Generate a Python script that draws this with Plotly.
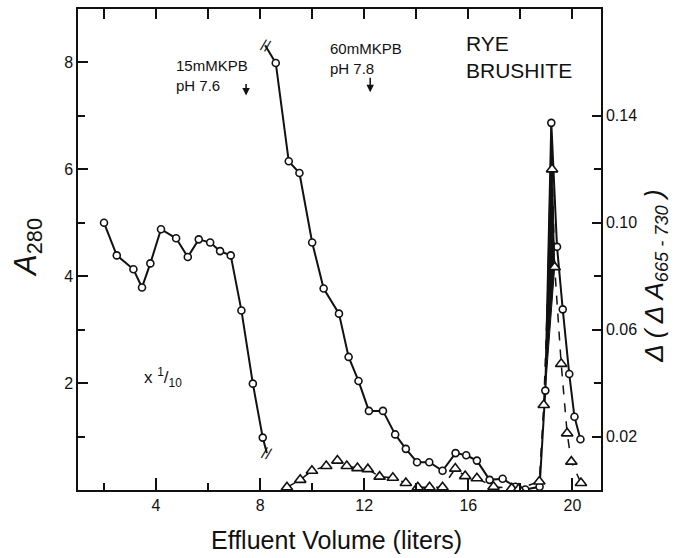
import plotly.graph_objects as go

# ---- data ----
left_x = [2.0, 2.49, 3.13, 3.46, 3.78, 4.19, 4.77, 5.22, 5.64, 6.08, 6.46, 6.87, 7.28, 7.72, 8.10]
left_y = [5.0, 4.39, 4.13, 3.79, 4.24, 4.88, 4.71, 4.36, 4.69, 4.63, 4.47, 4.39, 3.36, 1.99, 0.98]

main_x = [8.60, 9.10, 9.51, 10.00, 10.44, 11.03, 11.40, 11.78, 12.18, 12.72, 13.19, 13.60, 14.03, 14.50,
          15.01, 15.51, 15.92, 16.33, 16.82, 17.32, 17.81, 18.19, 18.74, 18.96, 19.19, 19.41, 19.63,
          19.88, 20.08, 20.31]
main_y = [7.99, 6.15, 5.93, 4.63, 3.77, 3.30, 2.49, 2.04, 1.48, 1.48, 1.04, 0.77, 0.52, 0.52,
          0.36, 0.69, 0.65, 0.55, 0.19, 0.21, 0.06, 0.01, 0.06, 1.86, 6.87, 4.55, 3.38,
          2.17, 1.37, 0.95]

tri_x = [9.03, 9.54, 9.99, 10.54, 10.97, 11.33, 11.74, 12.14, 12.59, 13.10, 13.60, 14.06, 14.51, 15.01,
         15.50, 15.88, 16.33, 16.97, 17.67, 17.94, 18.73, 18.90, 19.22, 19.32, 19.57, 19.80, 19.96, 20.33]
tri_y = [0.001, 0.0038, 0.0072, 0.009, 0.011, 0.009, 0.0082, 0.0078, 0.005, 0.0046, 0.0026, 0.001, 0.001,
         0.001, 0.008, 0.0052, 0.0044, 0.0012, 0.0006, 0.0004, 0.0032, 0.0318, 0.120, 0.0834, 0.0472,
         0.0212, 0.0106, 0.0026]

# axis break ends of the A280 curve
break_lo = (8.26, 0.69)
break_hi = (8.19, 8.32)

x_major = [4, 8, 12, 16, 20]
x_minor = [2, 6, 10, 14, 18]
x_top = [2, 4, 6, 8, 10, 12, 14, 16, 18, 20]
y_major = [2, 4, 6, 8]
y_minor = [1, 3, 5, 7]
y2_major = [0.02, 0.06, 0.10, 0.14]
y2_minor = [0.04, 0.08, 0.12]

FONT = "Liberation Sans"
BLACK = "#111111"

fig = go.Figure()

# left (x 1/10) curve and break extension
fig.add_trace(go.Scatter(x=[left_x[-1], break_lo[0]], y=[left_y[-1], break_lo[1]], mode="lines",
                         line=dict(color=BLACK, width=2), showlegend=False, hoverinfo="skip"))
fig.add_trace(go.Scatter(x=left_x, y=left_y, mode="lines+markers", line=dict(color=BLACK, width=2),
                         marker=dict(symbol="circle", size=7, color="white", line=dict(width=1.6, color=BLACK)),
                         showlegend=False))

# peak wedge fill
fig.add_trace(go.Scatter(x=[main_x[23], main_x[24], tri_x[23], main_x[23]],
                         y=[main_y[23], main_y[24], tri_y[23] * 50, main_y[23]],
                         mode="lines", fill="toself", fillcolor=BLACK, line=dict(color=BLACK, width=1),
                         showlegend=False, hoverinfo="skip"))

# triangles (right axis)
fig.add_trace(go.Scatter(x=tri_x, y=tri_y, yaxis="y2", mode="lines+markers",
                         line=dict(color=BLACK, width=1.5, dash="dash"),
                         marker=dict(symbol="triangle-up", size=10, color="white", line=dict(width=1.6, color=BLACK)),
                         showlegend=False))

# main A280 curve
fig.add_trace(go.Scatter(x=[break_hi[0], main_x[0]], y=[break_hi[1], main_y[0]], mode="lines",
                         line=dict(color=BLACK, width=2), showlegend=False, hoverinfo="skip"))
fig.add_trace(go.Scatter(x=main_x, y=main_y, mode="lines+markers", line=dict(color=BLACK, width=2),
                         marker=dict(symbol="circle", size=7, color="white", line=dict(width=1.6, color=BLACK)),
                         showlegend=False))

# invisible trace for top axis
fig.add_trace(go.Scatter(x=[x_top[0]], y=[0], xaxis="x2", mode="markers", marker=dict(opacity=0),
                         showlegend=False, hoverinfo="skip"))

axis_common = dict(showgrid=False, zeroline=False, showline=True, linecolor=BLACK, linewidth=1.5,
                   ticks="inside", tickcolor=BLACK, tickwidth=1.5,
                   tickfont=dict(family=FONT, size=16, color=BLACK))

fig.update_layout(
    width=679, height=558,
    margin=dict(l=78, r=78, t=9, b=68),
    paper_bgcolor="white", plot_bgcolor="white",
    font=dict(family=FONT, color=BLACK),
    xaxis=dict(range=[1.0, 21.1], tickmode="array", tickvals=x_major, ticklen=12,
               minor=dict(tickmode="array", tickvals=x_minor, ticks="inside", ticklen=7, tickcolor=BLACK, tickwidth=1.5),
               **axis_common),
    xaxis2=dict(range=[1.0, 21.1], overlaying="x", side="top", tickmode="array", tickvals=x_top,
                ticklen=10, showticklabels=False, showgrid=False, zeroline=False, showline=True,
                linecolor=BLACK, linewidth=1.5, ticks="inside", tickcolor=BLACK, tickwidth=1.5),
    yaxis=dict(range=[0, 9.0], tickmode="array", tickvals=y_major, ticklen=10,
               minor=dict(tickmode="array", tickvals=y_minor, ticks="inside", ticklen=7, tickcolor=BLACK, tickwidth=1.5),
               **axis_common),
    yaxis2=dict(range=[0, 0.18], overlaying="y", side="right", tickmode="array", tickvals=y2_major,
                ticktext=[f"{v:.2f}" for v in y2_major], ticklen=9,
                minor=dict(tickmode="array", tickvals=y2_minor, ticks="inside", ticklen=7, tickcolor=BLACK, tickwidth=1.5),
                **axis_common),
)

ann_font = dict(family=FONT, size=15, color=BLACK)
annotations = [
    # axis titles
    dict(text="Effluent Volume (liters)", xref="paper", yref="paper", x=0.495, y=-0.104,
         showarrow=False, font=dict(family=FONT, size=25, color=BLACK), xanchor="center", yanchor="middle"),
    dict(text="<i>A</i><sub>280</sub>", xref="paper", yref="paper", x=-0.096, y=0.505, textangle=-90,
         showarrow=False, font=dict(family=FONT, size=31, color=BLACK), xanchor="center", yanchor="middle"),
    dict(text="<i>Δ ( Δ A</i><sub><i>665 - 730</i></sub><i> )</i>", xref="paper", yref="paper", x=1.105, y=0.445,
         textangle=-90, showarrow=False, font=dict(family=FONT, size=26, color=BLACK),
         xanchor="center", yanchor="middle"),
    # buffer labels
    dict(text="15mMKPB<br>pH 7.6", x=4.70, y=8.14, xref="x", yref="y", showarrow=False, align="left",
         xanchor="left", yanchor="top", font=ann_font),
    dict(text="", x=7.46, y=7.38, ax=0, ay=-13, xref="x", yref="y", showarrow=True, arrowhead=2,
         arrowsize=1, arrowwidth=1.5, arrowcolor=BLACK),
    dict(text="60mMKPB<br>pH 7.8", x=10.62, y=8.46, xref="x", yref="y", showarrow=False, align="left",
         xanchor="left", yanchor="top", font=ann_font),
    dict(text="", x=12.23, y=7.44, ax=0, ay=-16, xref="x", yref="y", showarrow=True, arrowhead=2,
         arrowsize=1, arrowwidth=1.5, arrowcolor=BLACK),
    dict(text="RYE<br>BRUSHITE", x=15.82, y=8.6, xref="x", yref="y", showarrow=False, align="left",
         xanchor="left", yanchor="top", font=dict(family=FONT, size=21, color=BLACK)),
    dict(text="x <sup>1</sup>/<sub>10</sub>", x=3.45, y=2.1, xref="x", yref="y", showarrow=False,
         xanchor="left", yanchor="middle", font=dict(family=FONT, size=17, color=BLACK)),
    # axis break marks
    dict(text="//", x=break_lo[0], y=break_lo[1], xref="x", yref="y", showarrow=False,
         xanchor="center", yanchor="middle", textangle=15, font=dict(family=FONT, size=16, color=BLACK)),
    dict(text="//", x=break_hi[0], y=break_hi[1], xref="x", yref="y", showarrow=False,
         xanchor="center", yanchor="middle", textangle=15, font=dict(family=FONT, size=16, color=BLACK)),
]
fig.update_layout(annotations=annotations)

fig.write_html("out.html")
